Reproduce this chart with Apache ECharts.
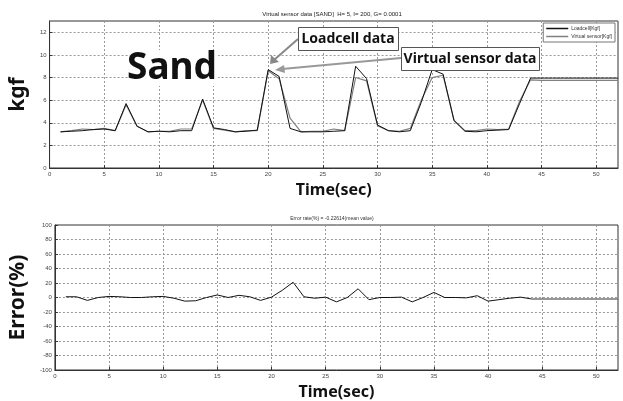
<!DOCTYPE html>
<html>
<head>
<meta charset="utf-8">
<script src="https://cdn.jsdelivr.net/npm/echarts@6/dist/echarts.min.js"></script>
<style>
html, body { margin: 0; padding: 0; background: #fff; }
#main { width: 623px; height: 401px; }
</style>
</head>
<body>
<div id="main"></div>
<script>
// time axis (sec)
var time = [1, 2, 3, 4, 5, 6, 7, 8, 9, 10, 11, 12, 13, 14, 15, 16, 17, 18, 19, 20,
    21, 22, 23, 24, 25, 26, 27, 28, 29, 30, 31, 32, 33, 34, 35, 36, 37, 38, 39, 40,
    41, 42, 43, 44, 45, 46, 47, 48, 49, 50, 51, 52];
var loadcell = [3.2, 3.25, 3.3, 3.4, 3.45, 3.3, 5.7, 3.7, 3.2, 3.25, 3.2, 3.3, 3.3, 6.1, 3.55, 3.4, 3.2, 3.25, 3.35, 8.7,
    8.1, 3.5, 3.2, 3.2, 3.2, 3.25, 3.3, 9.0, 7.9, 3.8, 3.3, 3.2, 3.3, 5.8, 8.7, 8.3, 4.2, 3.25, 3.2, 3.3,
    3.35, 3.4, 5.7, 7.95, 7.95, 7.95, 7.95, 7.95, 7.95, 7.95, 7.95, 7.95];
var virtualSensor = [3.2, 3.3, 3.45, 3.4, 3.5, 3.3, 5.6, 3.7, 3.2, 3.25, 3.25, 3.45, 3.45, 6.0, 3.5, 3.35, 3.2, 3.3, 3.3, 8.6,
    7.9, 4.4, 3.2, 3.25, 3.25, 3.45, 3.3, 8.0, 7.7, 3.75, 3.3, 3.25, 3.5, 6.0, 8.0, 8.2, 4.2, 3.3, 3.3, 3.45,
    3.4, 3.45, 5.9, 7.8, 7.75, 7.75, 7.75, 7.75, 7.75, 7.75, 7.75, 7.75];
// error rate (%) while the load changes, then the flat tail
var errorRate = [1, 1, -4, 0, 1.5, 1, 0, 0, 1, 1.5, -1, -5, -4.5, 0, 3.5, 0, 3, 1, -4, 0.5,
    10, 21, 1, -1, 0.5, -6, 0, 12, -3, 0, 0, 0.5, -6, 0, 7, 0, 0, -0.5, 2.5, -5,
    -3, -1, 0.5, -2];
var errorTail = [-2, -2, -2, -2, -2, -2, -2, -2, -2];

function pairs(xs, ys, start) {
    var out = [];
    for (var i = 0; i < ys.length; i++) out.push([xs[start + i], ys[i]]);
    return out;
}

// MATLAB-like axis styling, fresh objects per axis
function axisStyle(name, nameSize, hideMax) {
    return {
	name : name,
	nameLocation : 'middle',
	nameGap : 14,
	nameTextStyle : { fontSize : nameSize, fontWeight : 'bold', color : '#111', fontFamily : 'Noto Sans' },
	axisLine : { show : true, onZero : false, lineStyle : { color : '#333', width : 1 } },
	axisTick : { show : true, inside : true, length : 3, lineStyle : { color : '#333' } },
	axisLabel : { fontSize : 6, color : '#444', margin : 3, fontFamily : 'Arial', showMaxLabel : !hideMax },
	splitLine : { show : true, lineStyle : { color : '#999', type : [2, 2], width : 1 } }
    };
}

function xAxisOf(idx) {
    return Object.assign({
	type : 'value',
	gridIndex : idx,
	min : 0,
	max : 52,
	interval : 5
    }, axisStyle('Time(sec)', 16, true));
}

var myChart = echarts.init(document.getElementById('main'));
myChart.setOption({
    animation : false,
    grid : [
	{ left : 46, right : 5, top : 21, height : 147, show : true, borderColor : '#333', borderWidth : 1, backgroundColor : 'rgba(0,0,0,0)' },
	{ left : 46, right : 5, top : 225, height : 147, show : true, borderColor : '#333', borderWidth : 1, backgroundColor : 'rgba(0,0,0,0)' }
    ],
    legend : {
	data : [ { name : 'Loadcell[Kgf]', icon : 'rect' }, { name : 'Virtual sensor[Kgf]', icon : 'rect' } ],
	orient : 'vertical',
	right : 8,
	top : 23,
	padding : [ 3, 3, 3, 3 ],
	itemGap : 3,
	itemWidth : 22,
	itemHeight : 1.5,
	backgroundColor : '#fff',
	borderColor : '#777',
	borderWidth : 1,
	borderRadius : 0,
	z : 20,
	textStyle : { fontSize : 5, color : '#333', padding : [ 0, 0, 0, -2 ] }
    },
    xAxis : [ xAxisOf(0), xAxisOf(1) ],
    yAxis : [
	Object.assign({ type : 'value', gridIndex : 0, min : 0, max : 13, interval : 2 }, axisStyle('kgf', 21, true)),
	Object.assign({ type : 'value', gridIndex : 1, min : -100, max : 100, interval : 20 }, axisStyle('Error(%)', 21, false))
    ],
    series : [ {
	name : 'Virtual sensor[Kgf]',
	type : 'line',
	xAxisIndex : 0,
	yAxisIndex : 0,
	symbol : 'none',
	color : '#808080',
	lineStyle : { width : 1.2, color : '#808080' },
	data : pairs(time, virtualSensor, 0)
    }, {
	name : 'Loadcell[Kgf]',
	type : 'line',
	xAxisIndex : 0,
	yAxisIndex : 0,
	symbol : 'none',
	color : '#111',
	lineStyle : { width : 1, color : '#111' },
	data : pairs(time, loadcell, 0)
    }, {
	name : 'error',
	type : 'line',
	xAxisIndex : 1,
	yAxisIndex : 1,
	symbol : 'none',
	lineStyle : { width : 1, color : '#111' },
	data : pairs(time, errorRate, 0)
    }, {
	name : 'errorTail',
	type : 'line',
	xAxisIndex : 1,
	yAxisIndex : 1,
	symbol : 'none',
	lineStyle : { width : 1.5, color : '#777' },
	data : pairs(time, errorTail, 43)
    } ],
    graphic : [
	// plot titles
	{ type : 'text', x : 332, y : 14, style : { text : 'Virtual sensor data [SAND]  H= 5, I= 200, G= 0.0001', fontSize : 6, fill : '#222', align : 'center', verticalAlign : 'middle', fontFamily : 'Arial' } },
	{ type : 'text', x : 332, y : 219, style : { text : 'Error rate(%) = -0.22614(mean value)', fontSize : 5, fill : '#333', align : 'center', verticalAlign : 'middle', fontFamily : 'Arial' } },
	// big label
	{ type : 'rect', shape : { x : 130, y : 50, width : 88, height : 36 }, style : { fill : '#fff' }, z : 10 },
	{ type : 'text', x : 172, y : 68, z : 11, style : { text : 'Sand', fontSize : 37, fontWeight : 'bold', fill : '#111', align : 'center', verticalAlign : 'middle', fontFamily : 'Noto Sans' } },
	// arrows
	{ type : 'line', z : 11, shape : { x1 : 298, y1 : 39, x2 : 274, y2 : 60 }, style : { stroke : '#888', lineWidth : 2 } },
	{ type : 'polygon', z : 11, shape : { points : [ [ 270, 64 ], [ 271, 55 ], [ 279, 62 ] ] }, style : { fill : '#888' } },
	{ type : 'line', z : 11, shape : { x1 : 401, y1 : 58, x2 : 282, y2 : 69 }, style : { stroke : '#999', lineWidth : 2 } },
	{ type : 'polygon', z : 11, shape : { points : [ [ 275, 70 ], [ 284, 65 ], [ 285, 73 ] ] }, style : { fill : '#999' } },
	// annotation boxes
	{ type : 'rect', z : 12, shape : { x : 298.5, y : 27.5, width : 100, height : 23 }, style : { fill : '#fff', stroke : '#555', lineWidth : 1 } },
	{ type : 'text', z : 13, x : 348, y : 39.5, style : { text : 'Loadcell data', fontSize : 14, fontWeight : 'bold', fill : '#111', align : 'center', verticalAlign : 'middle', fontFamily : 'Noto Sans' } },
	{ type : 'rect', z : 12, shape : { x : 401.5, y : 47.5, width : 138, height : 23 }, style : { fill : '#fff', stroke : '#555', lineWidth : 1 } },
	{ type : 'text', z : 13, x : 470, y : 59.5, style : { text : 'Virtual sensor data', fontSize : 14, fontWeight : 'bold', fill : '#111', align : 'center', verticalAlign : 'middle', fontFamily : 'Noto Sans' } }
    ]
});
</script>
</body>
</html>
